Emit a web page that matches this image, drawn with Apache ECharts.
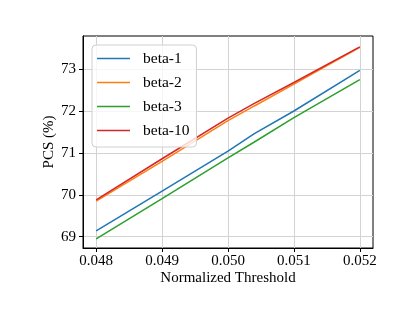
<!DOCTYPE html>
<html>
<head>
<meta charset="utf-8">
<script src="https://cdn.jsdelivr.net/npm/echarts@6/dist/echarts.min.js"></script>
<style>html,body{margin:0;padding:0;background:#fff;}#c{width:415px;height:311px;}</style>
</head>
<body>
<div id="c"></div>
<script>
const thresholds = [0.048, 0.049, 0.050, 0.0504, 0.051, 0.052];
const beta1 = [69.14, 70.09, 71.04, 71.46, 72.00, 72.97];
const beta2 = [69.85, 70.80, 71.77, 72.12, 72.64, 73.52];
const beta3 = [68.95, 69.91, 70.88, 71.26, 71.84, 72.75];
const beta10 = [69.88, 70.86, 71.83, 72.18, 72.68, 73.53];
const seriesNames = ['beta-1', 'beta-2', 'beta-3', 'beta-10'];
const xTicks = [0.048, 0.049, 0.050, 0.051, 0.052];
const yTicks = [69, 70, 71, 72, 73];

const colors = ['#1f77b4', '#ff7f0e', '#2ca02c', '#d62728'];
const font = 'Liberation Serif, Times New Roman, serif';
const allData = [beta1, beta2, beta3, beta10];

const chart = echarts.init(document.getElementById('c'), null, {renderer: 'canvas'});
chart.setOption({
  animation: false,
  backgroundColor: '#fff',
  color: colors,
  grid: {left: 83, right: 42, top: 36, bottom: 63, show: true, borderColor: '#000', borderWidth: 1, containLabel: false},
  legend: {
    orient: 'vertical', left: 92, top: 45,
    data: seriesNames,
    icon: 'rect',
    itemWidth: 33, itemHeight: 1.5, itemGap: 8,
    padding: [5.5, 7, 8.5, 5],
    backgroundColor: 'rgba(255,255,255,0.8)',
    borderColor: '#d0d0d0', borderWidth: 1, borderRadius: 4,
    textStyle: {fontFamily: font, fontSize: 15.5, color: '#000', padding: [0, 0, 0, 8]}
  },
  xAxis: {
    type: 'value', min: 0.0478, max: 0.0522,
    name: 'Normalized Threshold', nameLocation: 'middle', nameGap: 23, nameMoveOverlap: false,
    nameTextStyle: {fontFamily: font, fontSize: 15, color: '#000'},
    axisLine: {show: true, lineStyle: {color: '#000', width: 1}},
    axisTick: {show: true, inside: false, length: 4, lineStyle: {color: '#000'}, customValues: xTicks},
    axisLabel: {fontFamily: font, fontSize: 15, color: '#000', margin: 6, customValues: xTicks,
      formatter: v => v.toFixed(3)},
    splitLine: {show: true, lineStyle: {color: '#d3d3d3', width: 1}}
  },
  yAxis: {
    type: 'value', min: 68.73, max: 73.79,
    name: 'PCS (%)', nameLocation: 'middle', nameGap: 26, nameRotate: 90, nameMoveOverlap: false,
    nameTextStyle: {fontFamily: font, fontSize: 15, color: '#000'},
    axisLine: {show: true, lineStyle: {color: '#000', width: 1}},
    axisTick: {show: true, inside: false, length: 4, lineStyle: {color: '#000'}, customValues: yTicks},
    axisLabel: {fontFamily: font, fontSize: 15, color: '#000', margin: 7, customValues: yTicks,
      formatter: v => String(Math.round(v))},
    splitLine: {show: true, lineStyle: {color: '#d3d3d3', width: 1}}
  },
  series: seriesNames.map((n, i) => ({
    name: n, type: 'line', symbol: 'none', showSymbol: false,
    lineStyle: {width: 1.5, color: colors[i]},
    itemStyle: {color: colors[i]},
    data: thresholds.map((t, j) => [t, allData[i][j]])
  }))
});
</script>
</body>
</html>
